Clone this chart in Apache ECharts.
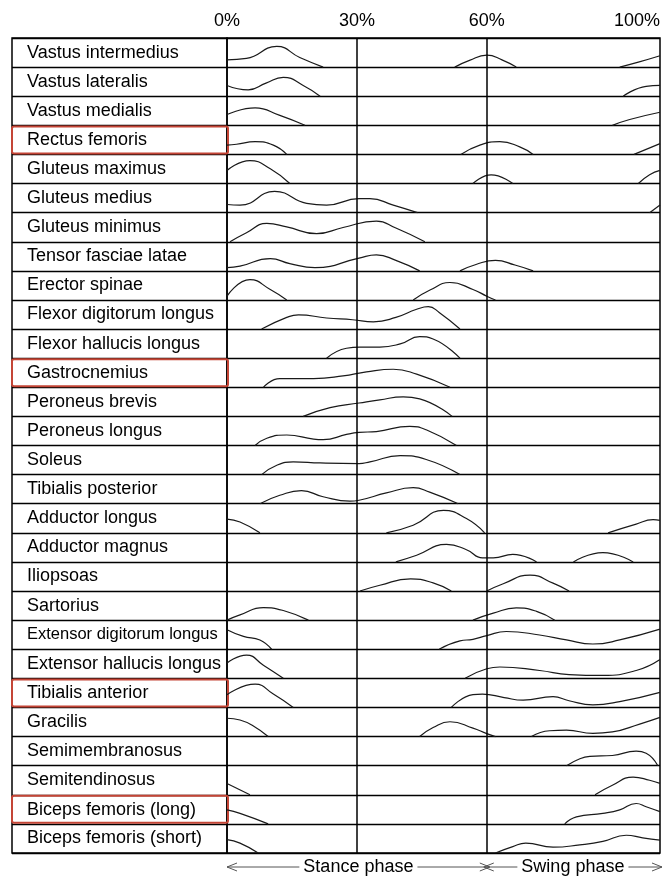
<!DOCTYPE html>
<html>
<head>
<meta charset="utf-8">
<script src="https://cdn.jsdelivr.net/npm/echarts@6/dist/echarts.min.js"></script>
<style>
  html, body { margin: 0; padding: 0; background: #fff; }
  #chart { width: 664px; height: 876px; }
</style>
</head>
<body>
<div id="chart"></div>
<script>
// muscle rows, top to bottom
var muscles = [
  "Vastus intermedius", "Vastus lateralis", "Vastus medialis", "Rectus femoris",
  "Gluteus maximus", "Gluteus medius", "Gluteus minimus", "Tensor fasciae latae",
  "Erector spinae", "Flexor digitorum longus", "Flexor hallucis longus", "Gastrocnemius",
  "Peroneus brevis", "Peroneus longus", "Soleus", "Tibialis posterior",
  "Adductor longus", "Adductor magnus", "Iliopsoas", "Sartorius",
  "Extensor digitorum longus", "Extensor hallucis longus", "Tibialis anterior", "Gracilis",
  "Semimembranosus", "Semitendinosus", "Biceps femoris (long)", "Biceps femoris (short)"
];
var highlighted = ["Rectus femoris", "Gastrocnemius", "Tibialis anterior", "Biceps femoris (long)"];

// gait cycle axis
var cycleTicks = [0, 30, 60, 100];
var phaseLines = [30, 60];
var phaseNames = ["Stance phase", "Swing phase"];
var phaseBounds = [0, 60, 100];

// activity segments: [% of gait cycle, level (fraction of row height)]
var vastusIntermedius = [
  [[0, 0.25], [4.5, 0.3], [11.5, 0.71], [16.8, 0.33], [22.2, 0]],
  [[52.6, 0], [56, 0.23], [60, 0.41], [63.5, 0.25], [66.8, 0]],
  [[90.7, 0], [95, 0.17], [100, 0.39]]
];
var vastusLateralis = [
  [[0, 0.37], [4.9, 0.22], [9, 0.45], [13, 0.65], [17.6, 0.37], [21.5, 0]],
  [[91.5, 0], [96.8, 0.34], [100, 0.37]]
];
var vastusMedialis = [
  [[0, 0.37], [6.5, 0.6], [12.2, 0.34], [18, 0]],
  [[89, 0], [93, 0.2], [100, 0.45]]
];
var rectusFemoris = [
  [[0, 0.32], [2.2, 0.35], [6.5, 0.44], [10.7, 0.32], [13.8, 0]],
  [[54, 0], [58.4, 0.32], [63, 0.44], [67.6, 0.26], [70.7, 0]],
  [[94, 0], [100, 0.37]]
];
var gluteusMaximus = [
  [[0, 0.45], [5.3, 0.79], [10, 0.51], [14.5, 0]],
  [[56.8, 0], [61, 0.3], [66, 0]],
  [[95, 0], [97.6, 0.3], [100, 0.45]]
];
var gluteusMedius = [
  [[0, 0.28], [3, 0.26], [11, 0.73], [18.4, 0.32], [23, 0.26], [30.5, 0.48], [33, 0.48], [38.4, 0.26], [44, 0]],
  [[97.6, 0], [100, 0.26]]
];
var gluteusMinimus = [
  [[0.7, 0], [4.5, 0.31], [9.2, 0.63], [13.8, 0.51], [20.7, 0.28], [26.8, 0.49], [34.5, 0.71], [39, 0.47], [45.7, 0]]
];
var tensorFasciaeLatae = [
  [[0, 0.11], [3, 0.16], [10, 0.42], [14.5, 0.25], [20.3, 0.11], [30.5, 0.44], [34.5, 0.55], [39, 0.36], [44.5, 0]],
  [[53.8, 0], [57.5, 0.22], [62, 0.36], [66.5, 0.2], [70.7, 0]]
];
var erectorSpinae = [
  [[0, 0.13], [5.3, 0.7], [10, 0.36], [13.8, 0]],
  [[43, 0], [47, 0.35], [51.5, 0.6], [56.8, 0.36], [60, 0.13], [62, 0]]
];
var flexorDigitorumLongus = [
  [[8, 0], [13.8, 0.4], [16.5, 0.49], [23, 0.38], [29, 0.32], [33.8, 0.25], [39, 0.4], [43.8, 0.68], [46.5, 0.77], [49, 0.57], [53.8, 0]]
];
var flexorHallucisLongus = [
  [[23, 0], [27.6, 0.34], [30.7, 0.38], [35.3, 0.38], [40, 0.49], [44.5, 0.74], [47.6, 0.66], [53.8, 0]]
];
var gastrocnemius = [
  [[8.4, 0], [12.2, 0.3], [20, 0.3], [26.8, 0.39], [32.2, 0.53], [38.4, 0.62], [43.8, 0.45], [51.5, 0]]
];
var peroneusBrevis = [
  [[17.6, 0], [23.8, 0.3], [30.5, 0.46], [35.3, 0.57], [40.7, 0.67], [44.5, 0.6], [52, 0]]
];
var peroneusLongus = [
  [[6.5, 0], [9.2, 0.25], [13.8, 0.36], [20, 0.22], [22.2, 0.2], [27.6, 0.38], [30.5, 0.45], [34.5, 0.48], [42.2, 0.66], [46, 0.54], [53, 0]]
];
var soleus = [
  [[8, 0], [11.5, 0.32], [15.3, 0.44], [21.5, 0.4], [30.5, 0.38], [33, 0.44], [40, 0.65], [46, 0.52], [53.8, 0]]
];
var tibialisPosterior = [
  [[7.6, 0], [12.2, 0.29], [17.2, 0.45], [22.2, 0.24], [28.4, 0.09], [30.5, 0.12], [36.8, 0.37], [43, 0.55], [46.8, 0.4], [53.4, 0]]
];
var adductorLongus = [
  [[0, 0.47], [3, 0.37], [7.6, 0]],
  [[36.8, 0], [43, 0.26], [50, 0.77], [55.3, 0.49], [59.5, 0]],
  [[88, 0], [94.5, 0.3], [98.4, 0.45], [100, 0.43]]
];
var adductorMagnus = [
  [[39, 0], [43.8, 0.23], [50.7, 0.6], [55.3, 0.42], [59, 0.14], [61.5, 0.14], [66, 0.26], [71.5, 0]],
  [[80, 0], [86.8, 0.32], [93.8, 0]]
];
var iliopsoas = [
  [[30.7, 0], [35.3, 0.2], [42.4, 0.42], [47.6, 0.28], [51.8, 0]],
  [[60, 0], [63.8, 0.25], [70, 0.55], [75.3, 0.27], [79, 0]]
];
var sartorius = [
  [[0, 0], [3, 0.18], [8.4, 0.43], [13, 0.33], [18.8, 0]],
  [[56.8, 0], [61.5, 0.24], [66.8, 0.42], [71.5, 0.3], [75.7, 0]]
];
var extensorDigitorumLongus = [
  [[0, 0.67], [3.8, 0.44], [7.6, 0.32], [10.3, 0]],
  [[49, 0], [53.8, 0.29], [56.8, 0.34], [60, 0.47], [64.5, 0.61], [72.2, 0.49], [78.4, 0.32], [84.5, 0.18], [90.7, 0.32], [100, 0.69]]
];
var extensorHallucisLongus = [
  [[0, 0.53], [4.5, 0.8], [8.4, 0.45], [13, 0]],
  [[55, 0], [60, 0.33], [63, 0.39], [72.2, 0.27], [79, 0.13], [86.8, 0.1], [94.5, 0.27], [100, 0.65]]
];
var tibialisAnterior = [
  [[0, 0.44], [6.5, 0.8], [10.7, 0.46], [15.3, 0]],
  [[51.8, 0], [56.8, 0.44], [59, 0.46], [64, 0.34], [68.4, 0.25], [75.3, 0.37], [79, 0.23], [84.5, 0.09], [90.7, 0.2], [100, 0.52]]
];
var gracilis = [
  [[0, 0.63], [3, 0.57], [6, 0.37], [9.5, 0]],
  [[44.5, 0], [47.6, 0.31], [51.5, 0.51], [56.8, 0.29], [60, 0.1], [62, 0]],
  [[70.3, 0], [74.5, 0.2], [78.4, 0.22], [84.5, 0.11], [89, 0.16], [95.3, 0.43], [100, 0.66]]
];
var semimembranosus = [
  [[78.4, 0], [81.5, 0.24], [83.8, 0.32], [89, 0.35], [94.5, 0.5], [96.8, 0.43], [99.5, 0]]
];
var semitendinosus = [
  [[0, 0.39], [5.3, 0]],
  [[85, 0], [89, 0.33], [93.8, 0.61], [97.6, 0.5], [100, 0.39]]
];
var bicepsFemorisLong = [
  [[0, 0.48], [3, 0.36], [9.5, 0]],
  [[78, 0], [80.7, 0.24], [86.8, 0.36], [90.7, 0.48], [94.5, 0.7], [96.8, 0.59], [100, 0.42]]
];
var bicepsFemorisShort = [
  [[0, 0.46], [3, 0.34], [7.2, 0]],
  [[62, 0], [66, 0.22], [69, 0.34], [75.3, 0.2], [81.5, 0.28], [86.8, 0.4], [92.2, 0.61], [96, 0.52], [100, 0.44]]
];

var curves = [
  vastusIntermedius, vastusLateralis, vastusMedialis, rectusFemoris,
  gluteusMaximus, gluteusMedius, gluteusMinimus, tensorFasciaeLatae,
  erectorSpinae, flexorDigitorumLongus, flexorHallucisLongus, gastrocnemius,
  peroneusBrevis, peroneusLongus, soleus, tibialisPosterior,
  adductorLongus, adductorMagnus, iliopsoas, sartorius,
  extensorDigitorumLongus, extensorHallucisLongus, tibialisAnterior, gracilis,
  semimembranosus, semitendinosus, bicepsFemorisLong, bicepsFemorisShort
];

var FONT = "'Liberation Sans', Arial, sans-serif";
var chart = echarts.init(document.getElementById("chart"), null, {renderer: "canvas"});

var series = [];
curves.forEach(function (segments, row) {
  segments.forEach(function (seg) {
    series.push({
      type: "line",
      xAxisIndex: 1,
      yAxisIndex: 1,
      data: seg.map(function (p) { return [p[0], row + 1 - p[1]]; }),
      smooth: 0.5,
      symbol: "none",
      silent: true,
      z: 3,
      lineStyle: {color: "#1a1a1a", width: 1.2}
    });
  });
});

// phase dividers
series.push({
  type: "line",
  xAxisIndex: 1,
  yAxisIndex: 1,
  data: [],
  markLine: {
    silent: true,
    symbol: "none",
    label: {show: false},
    lineStyle: {color: "#000", width: 1.5, type: "solid"},
    data: phaseLines.map(function (v) { return {xAxis: v}; })
  }
});

chart.setOption({
  animation: false,
  grid: [
    {left: 12, width: 215, top: 38, height: 815, show: true, borderColor: "#000", borderWidth: 1.5},
    {left: 227, width: 433, top: 38, height: 815, show: true, borderColor: "#000", borderWidth: 1.5}
  ],
  xAxis: [
    {gridIndex: 0, type: "value", show: false, min: 0, max: 1},
    {
      gridIndex: 1, type: "value", position: "top", min: 0, max: 100, interval: 10,
      axisLine: {show: false},
      axisTick: {show: false},
      splitLine: {show: false},
      axisLabel: {
        margin: 8,
        fontSize: 18,
        fontFamily: FONT,
        color: "#000",
        alignMinLabel: "center",
        alignMaxLabel: "right",
        formatter: function (v) { return cycleTicks.indexOf(v) >= 0 ? v + "%" : ""; }
      }
    }
  ],
  yAxis: [
    {
      gridIndex: 0, type: "category", inverse: true, data: muscles,
      axisLine: {show: false},
      axisTick: {show: false},
      splitLine: {show: true, interval: 0, lineStyle: {color: "#000", width: 1.3}},
      axisLabel: {
        inside: true,
        interval: 0,
        margin: 0,
        formatter: function (v) {
          if (highlighted.indexOf(v) >= 0) return "{box|" + v + "}";
          if (v === "Extensor digitorum longus") return "{small|" + v + "}";
          return "{plain|" + v + "}";
        },
        rich: {
          plain: {fontSize: 18, fontFamily: FONT, color: "#000", padding: [0, 0, 0, 15]},
          small: {fontSize: 16.5, fontFamily: FONT, color: "#000", padding: [0, 0, 0, 15]},
          box: {
            fontSize: 18, fontFamily: FONT, color: "#000", lineHeight: 20,
            width: 201, padding: [5, 0, 4, 15],
            borderColor: "#c44536", borderWidth: 2, borderRadius: 2
          }
        }
      }
    },
    {
      gridIndex: 1, type: "value", inverse: true, min: 0, max: muscles.length, interval: 1,
      axisLine: {show: false},
      axisTick: {show: false},
      axisLabel: {show: false},
      splitLine: {show: true, lineStyle: {color: "#000", width: 1.3}}
    }
  ],
  series: series
});

// phase arrows under the table
var ctx = document.createElement("canvas").getContext("2d");
ctx.font = "18px " + FONT;
var footY = 867;
var arrowStyle = {stroke: "#555", lineWidth: 1, fill: null};
var graphic = [];
function px(v) { return chart.convertToPixel({xAxisIndex: 1}, v); }
phaseNames.forEach(function (name, i) {
  var x0 = px(phaseBounds[i]);
  var x1 = px(phaseBounds[i + 1]);
  if (i === 0) x1 += 3; else x0 -= 3;
  if (i === phaseNames.length - 1) x1 += 2;
  var mid = (x0 + x1) / 2;
  var half = ctx.measureText(name).width / 2 + 4;
  graphic.push({type: "text", x: mid, y: footY, style: {text: name, font: "18px " + FONT, fill: "#000", align: "center", verticalAlign: "middle"}});
  graphic.push({type: "line", shape: {x1: x0, y1: footY, x2: mid - half, y2: footY}, style: arrowStyle});
  graphic.push({type: "line", shape: {x1: mid + half, y1: footY, x2: x1, y2: footY}, style: arrowStyle});
  graphic.push({type: "polyline", shape: {points: [[x0 + 10, footY - 4], [x0, footY], [x0 + 10, footY + 4]]}, style: arrowStyle});
  graphic.push({type: "polyline", shape: {points: [[x1 - 10, footY - 4], [x1, footY], [x1 - 10, footY + 4]]}, style: arrowStyle});
});
chart.setOption({graphic: graphic});

window.addEventListener("resize", function () {
  chart.resize();
});
</script>
</body>
</html>
